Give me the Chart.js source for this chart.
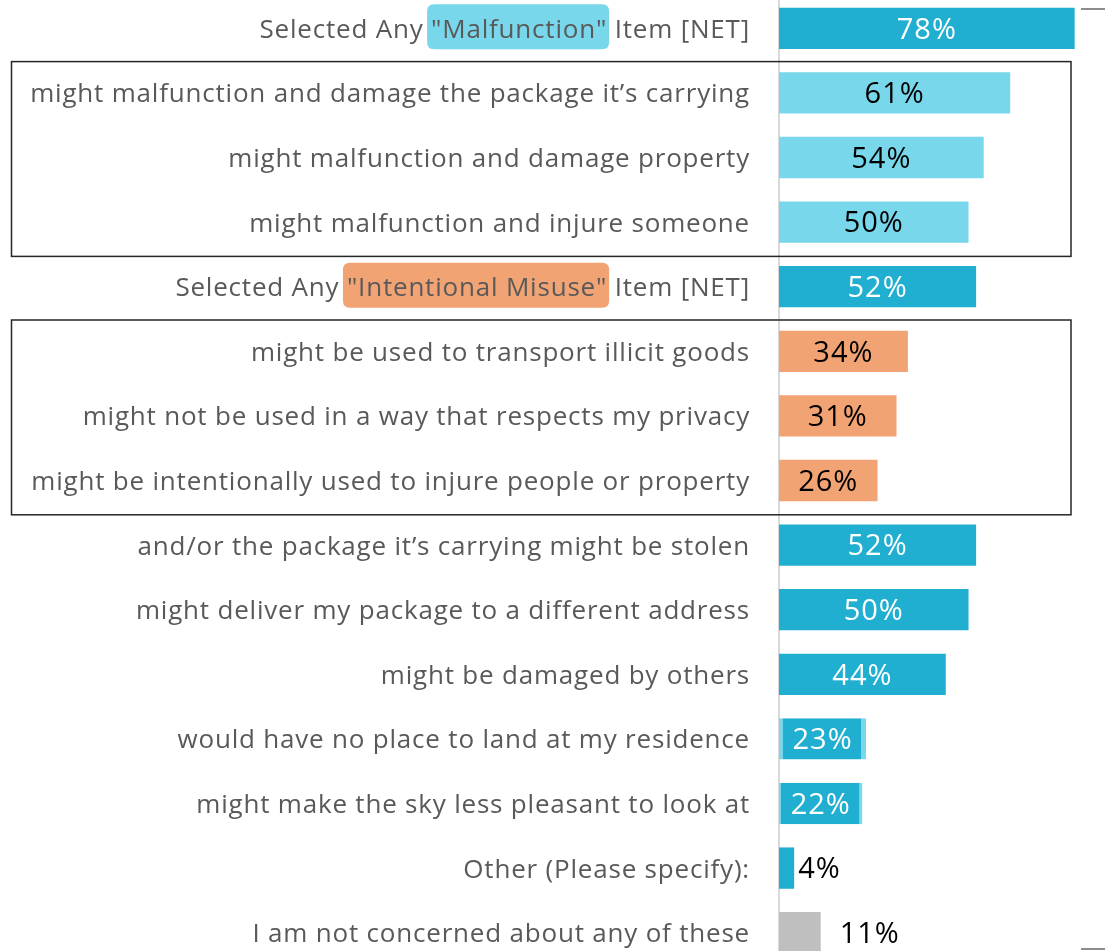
<!DOCTYPE html>
<html>
<head>
<meta charset="utf-8">
<script src="https://cdn.jsdelivr.net/npm/chart.js@4/dist/chart.umd.min.js"></script>
<style>
  html, body { margin: 0; padding: 0; background: #fff; overflow: hidden; }
  #wrap { position: absolute; left: 0; top: -4px; width: 1105px; height: 969px; }
</style>
</head>
<body>
<div id="wrap"><canvas id="grafico" width="1105" height="969"></canvas></div>
<script>
// categorias y valores del grafico
const categorias = [
    'Selected Any "Malfunction" Item [NET]',
    'might malfunction and damage the package it\u2019s carrying',
    'might malfunction and damage property',
    'might malfunction and injure someone',
    'Selected Any "Intentional Misuse" Item [NET]',
    'might be used to transport illicit goods',
    'might not be used in a way that respects my privacy',
    'might be intentionally used to injure people or property',
    'and/or the package it\u2019s carrying might be stolen',
    'might deliver my package to a different address',
    'might be damaged by others',
    'would have no place to land at my residence',
    'might make the sky less pleasant to look at',
    'Other (Please specify):',
    'I am not concerned about any of these'
];
const valores = [78, 61, 54, 50, 52, 34, 31, 26, 52, 50, 44, 23, 22, 4, 11];
const etiquetasValor = ['78%', '61%', '54%', '50%', '52%', '34%', '31%', '26%', '52%', '50%', '44%', '23%', '22%', '4%', '11%'];
// tipo de cada fila: net, mal (malfunction), mis (misuse), item, none
const tipos = ['net', 'mal', 'mal', 'mal', 'net', 'mis', 'mis', 'mis', 'item', 'item', 'item', 'item', 'item', 'item', 'none'];
// textos resaltados dentro de las etiquetas
const resaltados = [
    { fila: 0, texto: '"Malfunction"', color: '#79d7eb' },
    { fila: 4, texto: '"Intentional Misuse"', color: '#f2a374' }
];

const colores = { net: '#20afd0', mal: '#79d7eb', mis: '#f2a374', item: '#20afd0', none: '#bfbfbf' };
const colorTexto = { net: '#ffffff', mal: '#000000', mis: '#000000', item: '#ffffff', none: '#000000' };
const fuente = '"Open Sans", sans-serif';

// borde claro en las barras de 23% y 22%
const bordes = valores.map((v, i) => {
    if (i === 11) return { left: 4, right: 5, top: 0, bottom: 0 };
    if (i === 12) return { left: 2, right: 3, top: 0, bottom: 0 };
    return 0;
});

const roundRect = (ctx, x, y, w, h, r) => {
    ctx.beginPath();
    ctx.moveTo(x + r, y);
    ctx.lineTo(x + w - r, y);
    ctx.quadraticCurveTo(x + w, y, x + w, y + r);
    ctx.lineTo(x + w, y + h - r);
    ctx.quadraticCurveTo(x + w, y + h, x + w - r, y + h);
    ctx.lineTo(x + r, y + h);
    ctx.quadraticCurveTo(x, y + h, x, y + h - r);
    ctx.lineTo(x, y + r);
    ctx.quadraticCurveTo(x, y, x + r, y);
    ctx.closePath();
};

// dibuja etiquetas, recuadros y valores
const pluginEtiquetas = {
    id: 'etiquetas',
    afterDatasetsDraw(chart) {
        const ctx = chart.ctx;
        const ejeY = chart.scales.y;
        const meta = chart.getDatasetMeta(0);
        const banda = ejeY.getPixelForValue(1) - ejeY.getPixelForValue(0);
        ctx.save();

        // recuadros de los grupos
        ctx.strokeStyle = '#262626';
        ctx.lineWidth = 1.5;
        [[1, 3], [5, 7]].forEach(([a, b]) => {
            const y1 = ejeY.getPixelForValue(a) - banda / 2 + 1;
            const y2 = ejeY.getPixelForValue(b) + banda / 2 + 2;
            ctx.strokeRect(11.5, y1, 1059.5, y2 - y1);
        });

        // marcas grises a la derecha
        ctx.strokeStyle = '#8c8c8c';
        ctx.lineWidth = 2;
        ctx.beginPath();
        ctx.moveTo(1081, 13); ctx.lineTo(1105, 13);
        ctx.moveTo(1081, 953); ctx.lineTo(1105, 953);
        ctx.stroke();

        // etiquetas de categoria
        ctx.font = '26px ' + fuente;
        ctx.letterSpacing = '0.8px';
        ctx.textBaseline = 'middle';
        const xDer = 750;
        categorias.forEach((txt, i) => {
            const y = ejeY.getPixelForValue(i);
            const ancho = ctx.measureText(txt).width;
            const x0 = xDer - ancho;
            const r = resaltados.find(h => h.fila === i);
            if (r) {
                const pos = txt.indexOf(r.texto);
                const xa = x0 + ctx.measureText(txt.slice(0, pos)).width;
                const wa = ctx.measureText(r.texto).width;
                ctx.fillStyle = r.color;
                roundRect(ctx, xa - 4, y - 24, wa + 6, 45, 7);
                ctx.fill();
            }
            ctx.fillStyle = '#595959';
            ctx.textAlign = 'left';
            ctx.fillText(txt, x0, y + 2);
        });

        // valores de las barras
        ctx.font = '29px ' + fuente;
        ctx.letterSpacing = '1px';
        meta.data.forEach((bar, i) => {
            const tipo = tipos[i];
            const y = bar.y + 2;
            if (valores[i] < 15) {
                ctx.fillStyle = '#000000';
                ctx.textAlign = 'left';
                ctx.fillText(etiquetasValor[i], bar.x + (i === 13 ? 4 : 19), y);
            } else {
                ctx.fillStyle = colorTexto[tipo];
                ctx.textAlign = 'center';
                ctx.fillText(etiquetasValor[i], (bar.base + bar.x) / 2, y);
            }
        });
        ctx.restore();
    }
};

new Chart(document.getElementById('grafico'), {
    type: 'bar',
    data: {
        labels: categorias,
        datasets: [{
            data: valores,
            backgroundColor: tipos.map(t => colores[t]),
            borderColor: '#79d7eb',
            borderWidth: bordes,
            borderSkipped: false,
            barPercentage: 0.64,
            categoryPercentage: 1
        }]
    },
    options: {
        indexAxis: 'y',
        responsive: false,
        animation: false,
        layout: { padding: 0 },
        plugins: { legend: { display: false }, tooltip: { enabled: false } },
        scales: {
            x: { display: false, min: 0, max: 86 },
            y: {
                ticks: { display: false },
                grid: { display: false },
                border: { display: true, color: '#d9d9d9', width: 2 },
                afterFit: (escala) => { escala.width = 779; }
            }
        }
    },
    plugins: [pluginEtiquetas]
});
</script>
</body>
</html>
